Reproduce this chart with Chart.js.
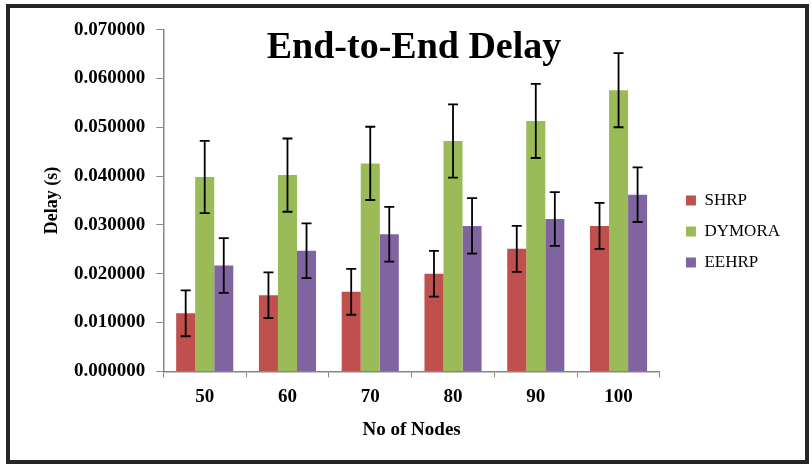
<!DOCTYPE html>
<html>
<head>
<meta charset="utf-8">
<script src="https://cdn.jsdelivr.net/npm/chart.js@4/dist/chart.umd.min.js"></script>
<style>
  html, body { margin: 0; padding: 0; background: #fff; }
  #wrap { position: relative; width: 812px; height: 471px; }
  #frame {
    position: absolute; left: 6px; top: 4px; width: 803px; height: 460px;
    box-sizing: border-box; border: 4px solid #262626; pointer-events: none;
  }
</style>
</head>
<body>
<div id="wrap">
  <canvas id="delayChart" width="812" height="471"></canvas>
  <div id="frame"></div>
</div>
<script>
const nodes = ["50", "60", "70", "80", "90", "100"];
const shrp = [0.0119, 0.0156, 0.0163, 0.0200, 0.0251, 0.0298];
const shrpErr = [0.0047, 0.0047, 0.0047, 0.0047, 0.0047, 0.0047];
const dymora = [0.0398, 0.0402, 0.0426, 0.0472, 0.0513, 0.0576];
const dymoraErr = [0.0074, 0.0075, 0.0075, 0.0075, 0.0076, 0.0076];
const eehrp = [0.0217, 0.0247, 0.0281, 0.0298, 0.0312, 0.0362];
const eehrpErr = [0.0056, 0.0056, 0.0056, 0.0057, 0.0055, 0.0056];

const serif = "'Liberation Serif', 'Times New Roman', serif";
const axisGray = "#868686";

// draws the error bars on top of the bars, using the y scale
const errorBars = {
  id: "errorBars",
  afterDatasetsDraw(chart) {
    const ctx = chart.ctx;
    const y = chart.scales.y;
    ctx.save();
    ctx.strokeStyle = "#000";
    ctx.lineWidth = 1.8;
    chart.data.datasets.forEach((ds, i) => {
      const meta = chart.getDatasetMeta(i);
      meta.data.forEach((bar, j) => {
        const v = ds.data[j], e = ds.errors[j];
        const top = y.getPixelForValue(v + e);
        const bot = y.getPixelForValue(v - e);
        ctx.beginPath();
        ctx.moveTo(bar.x, top); ctx.lineTo(bar.x, bot);
        ctx.moveTo(bar.x - 5, top); ctx.lineTo(bar.x + 5, top);
        ctx.moveTo(bar.x - 5, bot); ctx.lineTo(bar.x + 5, bot);
        ctx.stroke();
      });
    });
    ctx.restore();
  }
};

new Chart(document.getElementById("delayChart").getContext("2d"), {
  type: "bar",
  data: {
    labels: nodes,
    datasets: [
      { label: "SHRP", data: shrp, errors: shrpErr, backgroundColor: "#C0504D" },
      { label: "DYMORA", data: dymora, errors: dymoraErr, backgroundColor: "#9BBB59" },
      { label: "EEHRP", data: eehrp, errors: eehrpErr, backgroundColor: "#8064A2" }
    ]
  },
  options: {
    responsive: false,
    animation: false,
    datasets: { bar: { categoryPercentage: 0.69, barPercentage: 1.0 } },
    layout: { padding: { left: 38, right: 22, top: 4, bottom: 34 } },
    plugins: {
      tooltip: { enabled: false },
      title: {
        display: true,
        text: "End-to-End Delay",
        color: "#000",
        font: { family: serif, size: 38, weight: "bold" },
        padding: { top: 21, bottom: -41 }
      },
      legend: {
        position: "right",
        title: { display: true, text: " ", font: { size: 10 }, padding: { top: 10, bottom: 0 } },
        labels: {
          color: "#000",
          font: { family: serif, size: 17 },
          boxWidth: 10,
          boxHeight: 10,
          padding: 14
        }
      }
    },
    scales: {
      x: {
        grid: { drawOnChartArea: false, drawTicks: true, tickLength: 6, color: axisGray, offset: true },
        border: { color: axisGray, width: 1.5 },
        ticks: { color: "#000", font: { family: serif, size: 19, weight: "bold" }, padding: 8 },
        title: {
          display: true, text: "No of Nodes", color: "#000",
          font: { family: serif, size: 19, weight: "bold" }, padding: { top: 2, bottom: -4 }
        }
      },
      y: {
        min: 0,
        max: 0.07,
        grid: { drawOnChartArea: false, drawTicks: true, tickLength: 7, color: axisGray },
        border: { color: axisGray, width: 1.5 },
        ticks: {
          stepSize: 0.01,
          color: "#000",
          padding: 11,
          font: { family: serif, size: 19, weight: "bold" },
          callback: v => v.toFixed(6)
        },
        title: {
          display: true, text: "Delay (s)", color: "#000",
          font: { family: serif, size: 18, weight: "bold" }, padding: { bottom: 4 }
        }
      },
      // empty spacer between the plot and the legend
      gap: {
        type: "linear",
        position: "right",
        display: true,
        grid: { display: false },
        border: { display: false },
        ticks: { display: false },
        afterFit: s => { s.width = 12; }
      }
    }
  },
  plugins: [errorBars]
});
</script>
</body>
</html>
